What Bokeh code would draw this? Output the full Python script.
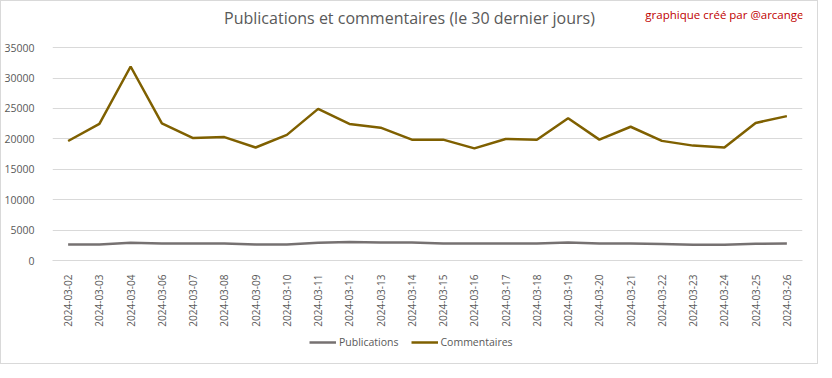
from math import pi
from bokeh.plotting import figure
from bokeh.layouts import column
from bokeh.models import ColumnDataSource, Label, Legend, LegendItem, FixedTicker, Range1d
from bokeh.embed import file_html
from bokeh.resources import INLINE

dates = ["2024-03-02", "2024-03-03", "2024-03-04", "2024-03-06", "2024-03-07", "2024-03-08",
         "2024-03-09", "2024-03-10", "2024-03-11", "2024-03-12", "2024-03-13", "2024-03-14",
         "2024-03-15", "2024-03-16", "2024-03-17", "2024-03-18", "2024-03-19", "2024-03-20",
         "2024-03-21", "2024-03-22", "2024-03-23", "2024-03-24", "2024-03-25", "2024-03-26"]
publications = [2650, 2650, 2910, 2800, 2800, 2800, 2650, 2650, 2900, 3060, 2960, 2960,
                2800, 2800, 2800, 2800, 2960, 2800, 2800, 2700, 2600, 2600, 2750, 2800]
commentaires = [19650, 22450, 31900, 22560, 20130, 20290, 18580, 20650, 24930, 22450, 21840, 19870,
                19870, 18430, 19980, 19850, 23380, 19870, 21990, 19670, 18890, 18580, 22610, 23740]
y_ticks = [0, 5000, 10000, 15000, 20000, 25000, 30000, 35000]
series_names = ["Publications", "Commentaires"]

title_text = "Publications et commentaires (le 30 dernier jours)"
credit_text = "graphique créé par @arcange"

FONT = "Open Sans"
TXT = "#595959"
GRID = "#D9D9D9"
C_PUB = "#767171"
C_COM = "#7F6000"

W = 816
H1, H2 = 328, 34
LEFT, RIGHT, TOP, BOTTOM = 50, 15, 2, 64
FH = H1 - TOP - BOTTOM   # frame height (frame also hosts the title area)
Y_TOP_PX = 45            # distance from frame top to the 35000 gridline
y_end = 35000 * FH / (FH - Y_TOP_PX)

src = ColumnDataSource(dict(d=dates, pub=publications, com=commentaires))

p = figure(x_range=dates, y_range=Range1d(0, y_end), width=W, height=H1,
           output_backend="svg", toolbar_location=None,
           min_border_left=LEFT, min_border_right=RIGHT, min_border_top=TOP, min_border_bottom=BOTTOM)
p.outline_line_color = None
p.background_fill_color = "white"
p.border_fill_color = "white"

p.line("d", "pub", source=src, line_color=C_PUB, line_width=2.5)
p.line("d", "com", source=src, line_color=C_COM, line_width=2.5)

p.yaxis.ticker = FixedTicker(ticks=y_ticks)
p.yaxis.axis_line_color = None
p.yaxis.major_tick_line_color = None
p.yaxis.minor_tick_line_color = None
p.yaxis.major_label_standoff = 12
p.yaxis.major_label_text_font = FONT
p.yaxis.major_label_text_font_size = "10.5px"
p.yaxis.major_label_text_color = TXT

p.xaxis.axis_line_color = GRID
p.xaxis.major_tick_line_color = None
p.xaxis.major_label_orientation = pi / 2
p.xaxis.major_label_standoff = 8
p.xaxis.major_label_text_font = FONT
p.xaxis.major_label_text_font_size = "10px"
p.xaxis.major_label_text_color = TXT

p.xgrid.grid_line_color = None
p.ygrid.ticker = FixedTicker(ticks=y_ticks)
p.ygrid.grid_line_color = GRID
p.ygrid.grid_line_width = 1

p.add_layout(Label(x=357, y=FH - 19, x_units="screen", y_units="screen", text=title_text,
                   text_align="center", text_baseline="middle", text_font=FONT,
                   text_font_size="16px", text_color=TXT))
p.add_layout(Label(x=751, y=FH - 16, x_units="screen", y_units="screen", text=credit_text,
                   text_align="right", text_baseline="middle", text_font=FONT,
                   text_font_size="11.5px", text_color="#C00000"))

# legend strip below the chart (series drawn out of view, only the legend shows)
q = figure(width=W, height=H2, output_backend="svg", toolbar_location=None,
           x_range=dates, y_range=Range1d(-2, -1),
           min_border_left=0, min_border_right=0, min_border_top=0, min_border_bottom=0)
q.axis.visible = False
q.grid.visible = False
q.outline_line_color = None
q.background_fill_color = "white"
q.border_fill_color = "white"
l_pub = q.line("d", "pub", source=src, line_color=C_PUB, line_width=2.5)
l_com = q.line("d", "com", source=src, line_color=C_COM, line_width=2.5)
legend = Legend(items=[LegendItem(label=series_names[0], renderers=[l_pub]),
                       LegendItem(label=series_names[1], renderers=[l_com])],
                orientation="horizontal", location=(257, 14),
                label_text_font=FONT, label_text_font_size="10.5px", label_text_color=TXT,
                glyph_width=27, glyph_height=12, label_standoff=3, spacing=12,
                padding=2, margin=0, border_line_color=None, background_fill_alpha=0)
q.add_layout(legend, "center")

layout = column(p, q, spacing=0)
layout.styles = {"border": "1px solid #D9D9D9", "box-sizing": "border-box"}

open("out.html", "w").write(file_html(layout, INLINE))
